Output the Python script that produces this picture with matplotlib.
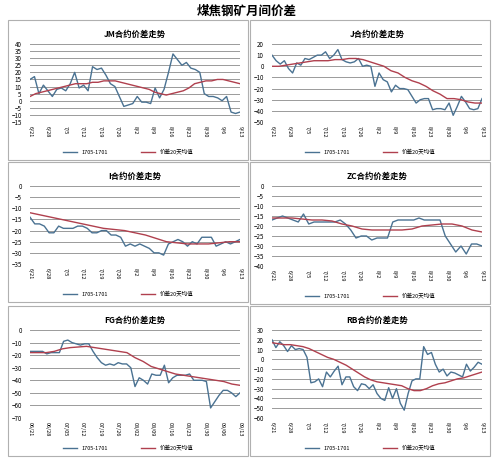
import matplotlib
matplotlib.use("Agg")
import matplotlib.pyplot as plt
from matplotlib.patches import Rectangle
import numpy as np

plt.rcParams['font.family'] = ['Noto Sans CJK SC', 'DejaVu Sans']

dates = ["6/21", "6/28", "7/5", "7/12", "7/19", "7/26", "8/2", "8/9", "8/16", "8/23", "8/30", "9/6", "9/13"]
datesFG = ["06/21", "06/28", "07/05", "07/12", "07/19", "07/26", "08/02", "08/09", "08/16", "08/23", "08/30", "09/06", "09/13"]

jm = [15, 17, 5, 11, 7, 3, 8, 9, 7, 12, 20, 9, 11, 7, 24, 22, 23, 18, 12, 10, 3, -4, -3, -2, 3, -1, -1, -2, 9, 2, 8, 20, 33,
      29, 25, 27, 23, 22, 20, 5, 3, 3, 2, 0, 3, -8, -9, -8]
jm_ma = [3, 5, 6, 7, 8, 9, 10, 11, 12, 12, 12, 13, 13, 14, 14, 14, 13, 12, 11, 10, 9, 8, 6, 5, 4, 5, 6, 7, 9, 12, 13, 14,
         14, 15, 15, 14, 13, 12]
j = [10, 5, 2, 5, -2, -6, 3, 1, 7, 6, 8, 10, 10, 13, 7, 10, 15, 6, 4, 3, 4, 7, 0, 1, 0, -18, -6, -12, -14, -23, -17, -20,
     -20, -21, -27, -33, -30, -29, -29, -39, -38, -38, -39, -33, -44, -36, -27, -32, -38, -39, -38, -29]
j_ma = [0, 0, 1, 2, 3, 4, 5, 5, 5, 6, 6, 7, 7, 6, 4, 2, 0, -4, -6, -10, -13, -15, -18, -22, -25, -29, -29, -30, -32, -33, -33]
i = [-14, -17, -17, -18, -21, -21, -18, -19, -19, -19, -18, -18, -19, -21, -21, -20, -20, -22, -22, -23, -27, -26, -27,
     -26, -27, -28, -30, -30, -31, -26, -25, -24, -25, -27, -25, -26, -23, -23, -23, -27, -26, -25, -26, -25, -24]
i_ma = [-12, -13, -14, -15, -16, -17, -18, -19, -19.5, -20, -21, -22, -23.5, -25, -25.5, -26, -26, -26, -25.5, -25, -25]
zc = [-17, -16, -15, -16, -17, -18, -14, -19, -18, -18, -18, -18, -18, -17, -19, -22, -26, -25, -25, -27, -26, -26, -26,
      -18, -17, -17, -17, -17, -16, -17, -17, -17, -17, -25, -29, -33, -30, -34, -29, -29, -30]
zc_ma = [-16, -16, -16, -16.5, -17, -17, -17.5, -19, -20, -21.5, -22, -22, -22, -22, -21.5, -20, -19.5, -19, -19, -20, -22, -23]
fg = [-17, -17, -17, -17, -19, -18, -18, -18, -9, -8, -10, -11, -12, -11, -11, -17, -22, -26, -28, -27, -28, -26, -27, -27,
      -30, -45, -38, -40, -43, -35, -36, -36, -28, -42, -38, -36, -36, -36, -35, -40, -40, -40, -41, -62, -57, -52, -48,
      -48, -50, -53, -50]
fg_ma = [-18, -18, -18, -17, -15, -14, -13.5, -13, -14, -15, -16, -17, -18, -22, -25, -29, -31, -33, -35, -36, -37, -38,
         -39, -40, -41, -43, -44]
rb = [20, 12, 18, 14, 8, 14, 10, 11, 10, 2, -24, -23, -20, -28, -13, -18, -12, -7, -26, -18, -18, -28, -32, -25, -26, -30,
      -26, -35, -40, -42, -29, -40, -30, -45, -52, -35, -22, -20, -20, 13, 5, 7, -5, -13, -10, -17, -13, -14, -16, -18, -5,
      -12, -8, -3, -5]
rb_ma = [17, 16, 15, 15, 14, 13, 11, 8, 5, 2, 0, -3, -6, -10, -14, -18, -21, -23, -24, -25, -26, -27, -30, -32, -32, -30,
         -27, -25, -24, -22, -20, -19, -17, -15, -13]

panels = [
    ("JM合约价差走势", jm, jm_ma, (-15, 40, 5), dates),
    ("J合约价差走势", j, j_ma, (-50, 20, 10), dates),
    ("I合约价差走势", i, i_ma, (-35, 0, 5), dates),
    ("ZC合约价差走势", zc, zc_ma, (-40, 0, 5), dates),
    ("FG合约价差走势", fg, fg_ma, (-70, 0, 10), datesFG),
    ("RB合约价差走势", rb, rb_ma, (-60, 30, 10), dates),
]

fig = plt.figure(figsize=(4.94, 4.58), dpi=100, facecolor="white")
fig.text(0.5, 0.975, "煤焦钢矿月间价差", ha="center", va="center", fontsize=9, fontweight="bold")

W, H = 494, 458
boxes = [(8, 20, 240, 140), (250, 20, 240, 140), (8, 162, 240, 140), (250, 162, 240, 142),
         (8, 306, 240, 150), (250, 306, 240, 150)]

for (title, s, ma, (lo, hi, step), labels), (bx, by, bw, bh) in zip(panels, boxes):
    fig.patches.append(Rectangle((bx / W, 1 - (by + bh) / H), bw / W, bh / H, transform=fig.transFigure,
                                 fill=False, edgecolor="#b0b0b0", lw=0.8))
    ax = fig.add_axes([(bx + 22) / W, 1 - (by + bh - 38) / H, (bw - 30) / W, (bh - 62) / H])
    ax.plot(np.linspace(0, 84, len(s)), s, color="#4a7292", lw=1.0, label="1705-1701")
    ax.plot(np.linspace(0, 84, len(ma)), ma, color="#b0404e", lw=1.0, label="价差20天均值")
    ax.set_ylim(lo, hi)
    ax.set_yticks(np.arange(lo, hi + 0.1, step))
    ax.set_xlim(0, 84)
    ax.set_xticks(np.arange(0, 85, 7))
    ax.set_xticklabels(labels, rotation=-90, fontsize=4)
    ax.tick_params(axis="y", labelsize=4.5, length=0, pad=6)
    ax.tick_params(axis="x", length=0, pad=3)
    ax.grid(axis="y", color="#9a9a9a", lw=0.7)
    ax.set_axisbelow(True)
    for sp in ax.spines.values():
        sp.set_visible(False)
    ax.set_title(title, fontsize=6, fontweight="bold", pad=5)
    fig.legend(*ax.get_legend_handles_labels(), loc="center", ncol=2, frameon=False, fontsize=4,
               bbox_to_anchor=((bx + bw / 2) / W, 1 - (by + bh - 8) / H), columnspacing=6, handlelength=2.5)

fig.savefig("out.png", dpi=100, facecolor="white")
